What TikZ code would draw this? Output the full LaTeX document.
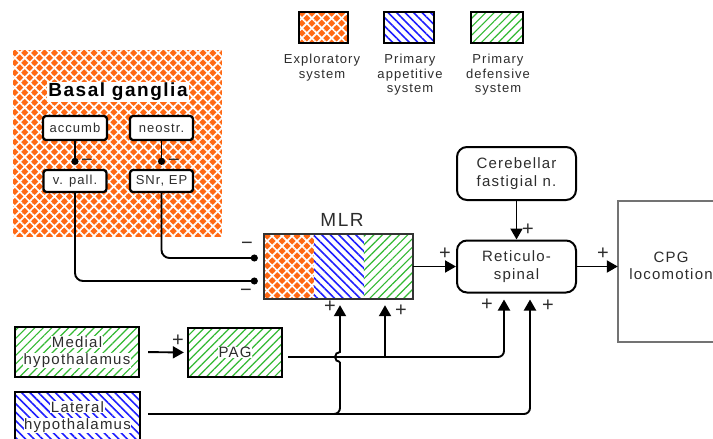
\documentclass[tikz,border=0pt]{standalone}
\usepackage{fontspec}
\setmainfont{Liberation Sans}[LetterSpace=8]
\usetikzlibrary{arrows.meta,patterns.meta,calc}
\definecolor{orgC}{RGB}{255,105,20}
\definecolor{bluC}{RGB}{30,30,255}
\definecolor{grnC}{RGB}{50,185,50}
\definecolor{txtC}{RGB}{45,45,45}
\newcommand\wbg[1]{{\setlength{\fboxsep}{0.6pt}\colorbox{white}{#1}}}
\begin{document}
\begin{tikzpicture}[x=1pt,y=-1pt,
  orangepat/.style={preaction={fill=orgC}, pattern={Hatch[angle=45,distance=7pt,line width=1.7pt]}, pattern color=white},
  bluepat/.style={preaction={fill=white}, pattern={Lines[angle=-45,distance=6pt,line width=1.6pt]}, pattern color=bluC},
  greenpat/.style={preaction={fill=white}, pattern={Lines[angle=45,distance=6pt,line width=1.2pt]}, pattern color=grnC},
  lbl/.style={font=\fontsize{15}{17.5}\selectfont, text=txtC, align=center},
  rbox/.style={draw, line width=2pt, rounded corners=10pt, fill=white, lbl, inner sep=0},
  sbox/.style={draw, line width=2.3pt, rounded corners=3pt, fill=white, text=txtC, font=\fontsize{13}{15}\selectfont, inner sep=0},
  hbox/.style={draw, line width=2.3pt, lbl, inner sep=0},
  lgbox/.style={draw, line width=2.6pt, minimum height=31pt, inner sep=0},
  lgtxt/.style={font=\fontsize{13}{14.5}\selectfont, text=txtC, align=center, anchor=north, inner sep=0},
  exc/.style={line width=1.9pt, -{Triangle[length=11pt,width=12pt]}},
  inhib/.style={line width=1.9pt, -{Circle[length=7pt]}},
  sgn/.style={font=\fontsize{20}{20}\selectfont, text=txtC, inner sep=0}
]
\fill[white] (0,0) rectangle (713,439);
\useasboundingbox (0,0) rectangle (713,439);

% legend
\node[lgbox, orangepat, minimum width=49pt] (lg1) at (323.5,27.5) {};
\node[lgbox, bluepat, minimum width=50pt] (lg2) at (409,27.5) {};
\node[lgbox, greenpat, minimum width=52pt] (lg3) at (497,27.5) {};
\node[lgtxt] (lgt1) at (322,54) {Exploratory\\system};
\node[lgtxt] (lgt2) at (410,54) {Primary\\appetitive\\system};
\node[lgtxt] (lgt3) at (498,54) {Primary\\defensive\\system};

% basal ganglia
\node[orangepat, minimum width=209pt, minimum height=187pt, inner sep=0] (bg) at (117.5,143.5) {};
\node[font=\fontsize{19}{19}\selectfont\bfseries, fill=white, inner sep=1pt] (bgt) at (118,92) {Basal ganglia};
\node[sbox, minimum width=64pt, minimum height=24pt] (accumb) at (75,128) {accumb};
\node[sbox, minimum width=63pt, minimum height=24pt] (neostr) at (161.5,128) {neostr.};
\node[sbox, minimum width=63pt, minimum height=22pt] (vpall) at (75,181) {v. pall.};
\node[sbox, minimum width=63pt, minimum height=22pt] (snr) at (161.5,181) {SNr, EP};
\draw[inhib, shorten >=4pt] (accumb.south) -- (vpall.north);
\draw[inhib, shorten >=4pt] (neostr.south) -- (snr.north);
\node[sgn] (m1) at (87,163) {−};
\node[sgn] (m2) at (174,163) {−};

% MLR
\node[minimum width=149pt, minimum height=65pt, inner sep=0] (mlr) at (338.5,266.5) {};
\path[orangepat] (mlr.south west) rectangle ($(mlr.north west)+(50,0)$);
\path[bluepat] ($(mlr.south west)+(50,0)$) rectangle ($(mlr.north west)+(100,0)$);
\path[greenpat] ($(mlr.south west)+(100,0)$) rectangle (mlr.north east);
\draw[line width=2.4pt, black!80] (mlr.south west) rectangle (mlr.north east);
\node[font=\fontsize{19}{19}\selectfont, text=txtC] (mlrlbl) at (342,220) {MLR};

\coordinate (in1) at ($(mlr.west)+(-6,-8.5)$);
\coordinate (in2) at ($(mlr.west)+(-6,14.5)$);
\draw[inhib, rounded corners=8pt] (snr.south) |- (in1);
\draw[inhib, rounded corners=8pt] (vpall.south) |- (in2);
\node[sgn] (m3) at (247,246) {−};
\node[sgn] (m4) at (246,293) {−};

% reticulospinal, cerebellar, CPG
\node[rbox, minimum width=119pt, minimum height=52pt] (reti) at (516.5,266.5) {Reticulo-\\spinal};
\node[rbox, minimum width=119pt, minimum height=53pt] (cereb) at (516.5,173.5) {Cerebellar\\fastigial n.};
\node[minimum width=95pt, minimum height=141pt, inner sep=0] (cpgbox) at (665.5,271.5) {};
\draw[line width=2.4pt, black!55] (cpgbox.north east) -- (cpgbox.north west) -- (cpgbox.south west) -- (cpgbox.south east);
\node[lbl] (cpg) at (671,266) {CPG\\locomotion};

\draw[exc] (mlr.east) -- (reti.west);
\draw[exc] (cereb.south) -- (reti.north);
\draw[exc] (reti.east) -- (reti.east -| cpgbox.west);
\node[sgn] (p1) at (445,254) {+};
\node[sgn] (p2) at (528,230) {+};
\node[sgn] (p3) at (603,254) {+};

% hypothalamus and PAG
\node[hbox, greenpat, minimum width=124pt, minimum height=50pt] (medial) at (77,352) {\wbg{Medial}\\\wbg{hypothalamus}};
\node[hbox, greenpat, minimum width=94pt, minimum height=49pt] (pag) at (235,352.5) {\wbg{PAG}};
\node[hbox, bluepat, minimum width=125pt, minimum height=50pt] (lateral) at (77.5,417) {\wbg{Lateral}\\\wbg{hypothalamus}};
\draw[exc, shorten <=8pt, shorten >=3pt] (medial.east) -- (pag.west);
\node[sgn] (p4) at (178,341) {+};

\coordinate (pagout) at ($(pag.east)+(5,4.5)$);
\coordinate (latout) at ($(lateral.east)+(7,-3)$);
\coordinate (mlrin1) at ($(mlr.south)+(1.5,6)$);
\coordinate (mlrin2) at ($(mlr.south)+(46.5,6)$);
\coordinate (retin1) at ($(reti.south)+(-12.5,6)$);
\coordinate (retin2) at ($(reti.south)+(13.5,6)$);

\draw[exc, rounded corners=6pt] (pagout) -| (retin1);
\draw[exc] (pagout -| mlrin2) -- (mlrin2);
\draw[exc, rounded corners=6pt] (latout) -| (retin2);
\draw[line width=1.9pt, rounded corners=6pt] ($(latout -| mlrin1)+(-12,0)$) -| ($(pagout -| mlrin1)+(0,5)$);
\draw[exc] ($(pagout -| mlrin1)+(0,5)$) arc[start angle=270, end angle=90, radius=5pt] -- (mlrin1);

\node[sgn] (p5) at (330,307) {+};
\node[sgn] (p6) at (401,311) {+};
\node[sgn] (p7) at (487,305) {+};
\node[sgn] (p8) at (548,306) {+};
\end{tikzpicture}
\end{document}
